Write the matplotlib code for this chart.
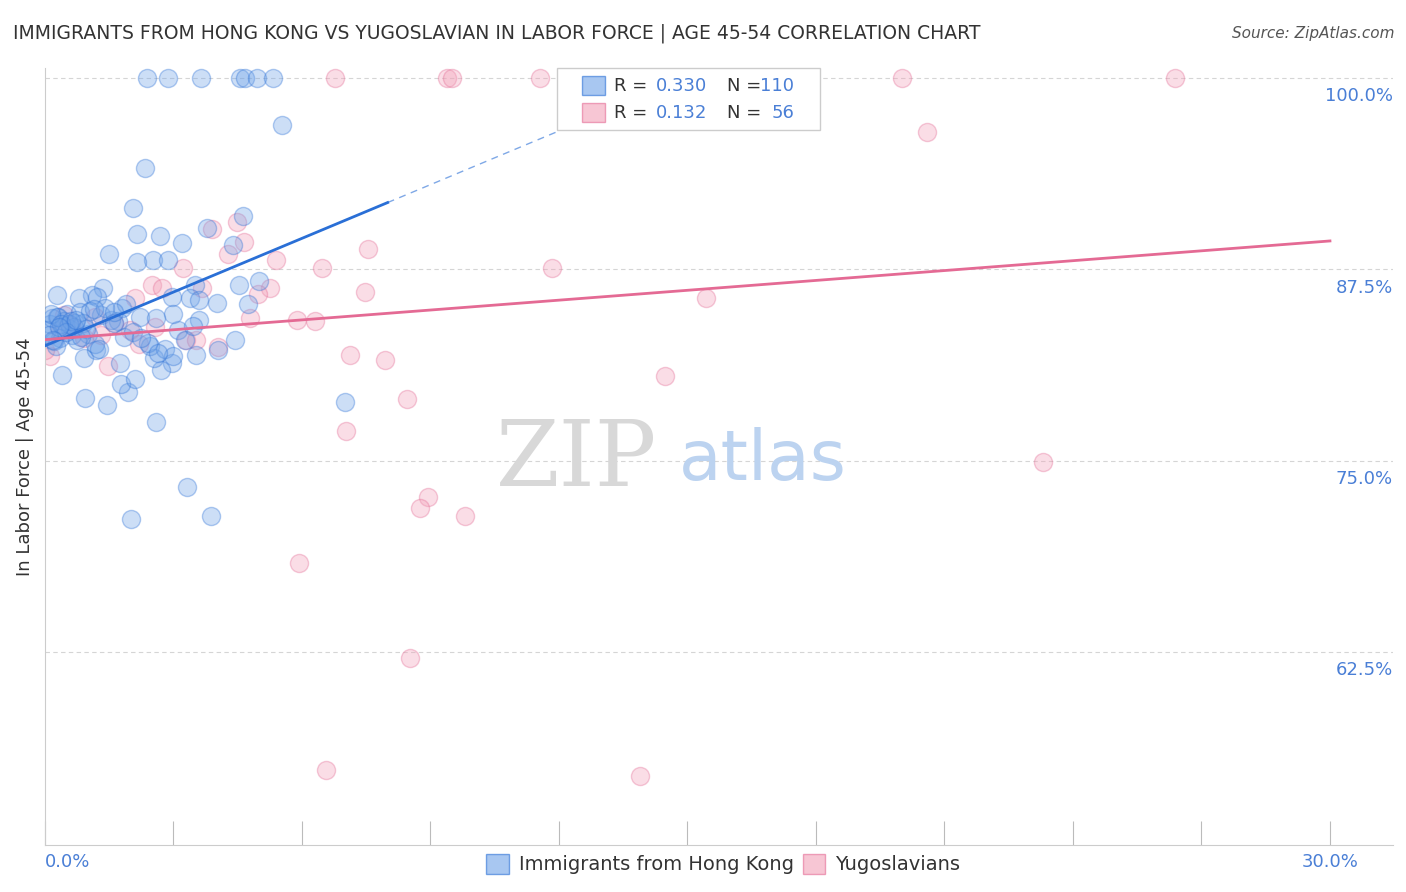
import matplotlib.pyplot as plt
from matplotlib.patches import Rectangle
from matplotlib.transforms import blended_transform_factory

# Immigrants from Hong Kong (blue): x = % immigrants, y = % in labor force
hk_x = [2.38, 2.87, 3.64, 4.55, 4.67, 4.95, 5.32, 5.53, 2.33, 2.05, 4.62, 3.78,
        2.15, 2.69, 3.2, 4.39, 1.49, 2.52, 2.15, 2.87, 5.0, 4.53, 3.5, 1.35,
        1.10, 0.28, 0.79, 1.21, 2.97, 3.39, 3.6, 4.02, 4.74, 1.8, 0.93, 1.45,
        1.94, 1.77, 2.1, 0.4, 7.0, 2.59, 3.32, 3.88, 2.0, 4.44, 4.04, 3.53,
        2.97, 2.71, 2.54, 1.75, 0.91, 1.19, 3.1, 3.27, 2.45, 2.8, 1.84, 1.7,
        2.22, 2.99, 3.6, 0.28, 0.51, 0.82, 0.12, 0.42, 0.63, 0.7, 1.0, 1.17,
        0.58, 0.16, 0.35, 0.05, 0.2, 0.45, 0.88, 1.3, 1.55, 0.68, 0.3, 0.1,
        0.75, 1.05, 1.6, 2.4, 0.95, 0.55, 0.25, 1.4, 2.05, 2.6, 1.25, 0.15,
        0.85, 0.38, 0.6, 1.9, 2.25, 3.0, 0.48, 0.72, 1.15, 0.33, 0.18, 2.65,
        1.62, 3.45]
hk_y = [100, 100, 100, 100, 100, 100, 100, 96.9, 94.1, 91.5, 91.0, 90.2,
        89.8, 89.7, 89.2, 89.1, 88.5, 88.1, 88.0, 88.1, 86.7, 86.5, 86.5, 86.3,
        85.8, 85.8, 85.6, 85.7, 85.7, 85.6, 85.5, 85.3, 85.2, 85.0, 79.1, 78.6,
        79.5, 80.0, 80.3, 80.6, 78.8, 77.5, 73.3, 71.4, 71.2, 82.9, 82.2, 81.9,
        81.4, 80.9, 81.7, 81.4, 81.7, 82.2, 83.5, 82.9, 82.5, 82.3, 83.1, 84.1,
        84.4, 84.6, 84.2, 84.4, 84.6, 84.7, 83.9, 83.8, 83.2, 84.0, 83.3, 82.6,
        83.6, 84.3, 83.0, 83.5, 82.8, 84.1, 84.0, 84.5, 84.2, 83.7, 84.4, 83.2,
        82.9, 84.8, 84.0, 82.7, 83.6, 83.9, 82.5, 85.0, 83.4, 84.3, 82.3, 84.6,
        83.1, 83.9, 84.1, 85.2, 83.0, 81.8, 83.4, 84.2, 84.9, 83.7, 82.9, 82.0,
        84.7, 83.8]

# Yugoslavians (pink)
yu_x = [6.77, 9.39, 9.5, 11.56, 20.0, 26.38, 20.6, 4.48, 3.9, 4.65, 7.54, 4.27,
        5.39, 3.22, 6.47, 11.84, 2.5, 2.73, 3.67, 5.25, 4.97, 7.47, 15.43, 2.1,
        4.79, 5.88, 6.3, 1.17, 2.57, 1.98, 3.29, 3.53, 4.04, 7.12, 7.94, 1.47,
        0.12, 14.48, 8.45, 7.03, 23.3, 8.94, 8.75, 9.81, 5.93, 8.52, 6.56, 13.89,
        0.35, 0.0, 0.9, 1.6, 0.6, 2.2, 1.3, 0.45]
yu_y = [100, 100, 100, 100, 100, 100, 96.5, 90.6, 90.1, 89.3, 88.8, 88.5,
        88.1, 87.6, 87.6, 87.6, 86.5, 86.3, 86.3, 86.3, 85.9, 86.0, 85.6, 85.6,
        84.3, 84.2, 84.1, 84.4, 83.7, 83.5, 82.9, 82.9, 82.4, 81.9, 81.6, 81.2,
        81.8, 80.5, 79.0, 76.9, 74.9, 72.6, 71.9, 71.4, 68.3, 62.1, 54.8, 54.4,
        83.5, 82.2, 83.0, 84.0, 83.8, 82.6, 83.2, 84.5]

# trend lines (intercept, slope per %)
hk_trend = (82.5, 1.17)
yu_trend = (82.9, 0.215)

BLUE = "#6fa3e8"
BLUE_LINE = "#2a6fd6"
PINK = "#f2a0b8"
PINK_LINE = "#e46a94"
TICK_BLUE = "#4a7fd6"

fig = plt.figure(figsize=(14.06, 8.92), dpi=100)
ax = fig.add_axes([0.032, 0.0527, 0.9587, 0.871])
ax.set_xlim(0, 31.47)
ax.set_ylim(49.87, 100.65)

for y in (100, 87.5, 75, 62.5):
    ax.axhline(y, color="#d5d5d5", lw=0.8, ls=(0, (4, 3)), zorder=0)

ax.scatter(hk_x, hk_y, s=170, facecolor=BLUE, alpha=0.35, edgecolor=BLUE_LINE,
           linewidth=1.0, zorder=3)
ax.scatter(yu_x, yu_y, s=170, facecolor=PINK, alpha=0.35, edgecolor=PINK_LINE,
           linewidth=1.0, zorder=2)

b0, b1 = hk_trend
ax.plot([0, 8.0], [b0, b0 + b1 * 8.0], color=BLUE_LINE, lw=2, zorder=4)
ax.plot([8.0, 12.6], [b0 + b1 * 8.0, b0 + b1 * 12.6], color=BLUE_LINE, lw=1,
        ls=(0, (5, 4)), alpha=0.6, zorder=4)
p0, p1 = yu_trend
ax.plot([0, 30], [p0, p0 + p1 * 30], color=PINK_LINE, lw=2, zorder=4)

for s in ("top", "right"):
    ax.spines[s].set_visible(False)
for s in ("left", "bottom"):
    ax.spines[s].set_color("#cccccc")

ax.set_xticks([i * 3 for i in range(11)])
ax.set_xticklabels([])
ax.tick_params(axis="x", direction="in", length=17, color="#bbbbbb")
ax.set_yticks([])
xt = blended_transform_factory(ax.transData, ax.transAxes)
ax.text(0, -0.01, "0.0%", transform=xt, ha="left", va="top", fontsize=13,
        color=TICK_BLUE)
ax.text(30, -0.01, "30.0%", transform=xt, ha="center", va="top", fontsize=13,
        color=TICK_BLUE)
for y, lab in ((100, "100.0%"), (87.5, "87.5%"), (75, "75.0%"), (62.5, "62.5%")):
    ax.text(1.0, y - 1.2, lab, transform=ax.get_yaxis_transform(), ha="right",
            va="center", fontsize=13, color=TICK_BLUE)

ax.set_ylabel("In Labor Force | Age 45-54", fontsize=13, color="#333333", labelpad=8)

ax.text(14.3, 75.0, "ZIP", fontsize=66, color="#d8d8d8", ha="right", va="center",
        family="DejaVu Serif", zorder=1)
ax.text(14.8, 75.0, "atlas", fontsize=50, color="#bcd3f0", ha="left", va="center",
        zorder=1)

fig.text(0.009, 0.963, "IMMIGRANTS FROM HONG KONG VS YUGOSLAVIAN IN LABOR FORCE | AGE 45-54 CORRELATION CHART",
         fontsize=13.5, color="#333333", va="center")
fig.text(0.992, 0.963, "Source: ZipAtlas.com", fontsize=11, color="#555555",
         ha="right", va="center", style="italic")

# top legend box
fig.patches.append(Rectangle((0.396, 0.854), 0.187, 0.070, transform=fig.transFigure,
                             facecolor="white", edgecolor="#cccccc", lw=1))
for yy, fc, ec, r, n in ((0.904, BLUE, BLUE_LINE, "0.330", "110"),
                         (0.873, PINK, PINK_LINE, "0.132", "56")):
    fig.patches.append(Rectangle((0.414, yy - 0.010), 0.016, 0.021, transform=fig.transFigure,
                                 facecolor=fc, edgecolor=ec, alpha=0.6, lw=1))
    fig.text(0.437, yy, "R =", fontsize=13, color="#333333", va="center")
    fig.text(0.503, yy, r, fontsize=13, color=TICK_BLUE, va="center", ha="right")
    fig.text(0.517, yy, "N =", fontsize=13, color="#333333", va="center")
    fig.text(0.565, yy, n, fontsize=13, color=TICK_BLUE, va="center", ha="right")

# bottom legend
for x0, fc, ec, lab in ((0.346, BLUE, BLUE_LINE, "Immigrants from Hong Kong"),
                        (0.571, PINK, PINK_LINE, "Yugoslavians")):
    fig.patches.append(Rectangle((x0, 0.020), 0.016, 0.023, transform=fig.transFigure,
                                 facecolor=fc, edgecolor=ec, alpha=0.6, lw=1))
    fig.text(x0 + 0.023, 0.031, lab, fontsize=14, color="#333333", va="center")

fig.savefig("out.png", dpi=100)
